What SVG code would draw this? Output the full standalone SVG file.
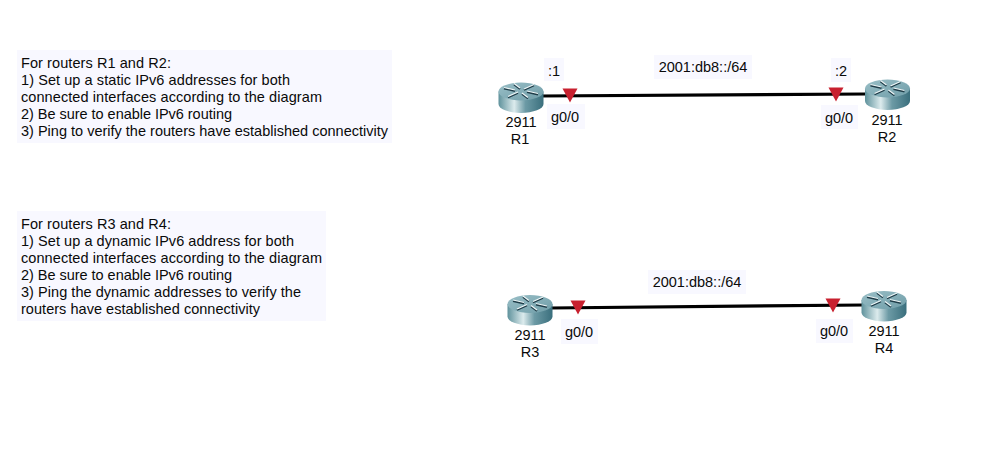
<svg xmlns="http://www.w3.org/2000/svg" width="994" height="473" viewBox="0 0 994 473">
<style>
text{font-family:"Liberation Sans",Arial,sans-serif;font-size:14.5px;fill:#0a0a0a}
.c{text-anchor:middle}
.bg{fill:#f8f8ff}
.link{stroke:#000;stroke-width:3.2;fill:none}
.tri{fill:#c8202f}
</style>
<defs>
<linearGradient id="body" x1="0" x2="1" y1="0" y2="0">
<stop offset="0" stop-color="#5f929c"/><stop offset=".35" stop-color="#dcebed"/><stop offset=".6" stop-color="#6c9aa5"/><stop offset="1" stop-color="#3a6f7d"/>
</linearGradient>
<linearGradient id="top" x1="0" x2="1" y1="0" y2="1">
<stop offset="0" stop-color="#9abfc7"/><stop offset="1" stop-color="#6f9da8"/>
</linearGradient>
<g id="router">
<path d="M-22.500-6V6.500A22.500 9 0 0 0 22.500 6.500V-6Z" fill="url(#body)"/>
<ellipse cx="0" cy="-6" rx="22.500" ry="9" fill="url(#top)"/>
<path d="M-17-9 L-6-6.500M17-3 L6-5.500M-7-13 L-1-8.500M7 1 L1-3.500M-13 0 L-3-4.500M13-12 L3-7.500" stroke="#1f3d49" stroke-width="1.800" fill="none"/>
<path d="M-17-10 L-6-7.500M17-4 L6-6.500M-7-14 L-1-9.500M7 0 L1-4.500M-13-1 L-3-5.500M13-13 L3-8.500" stroke="#eef6f7" stroke-width="1.200" fill="none"/>
</g>
</defs>
<rect width="994" height="473" fill="#fff"/>
<g id="note1">
<rect class="bg" x="17" y="50" width="375" height="93"/>
<text x="21" y="68" textLength="150">For routers R1 and R2:</text>
<text x="21" y="85" textLength="269">1) Set up a static IPv6 addresses for both</text>
<text x="21" y="102" textLength="301">connected interfaces according to the diagram</text>
<text x="21" y="119" textLength="211">2) Be sure to enable IPv6 routing</text>
<text x="21" y="136" textLength="367">3) Ping to verify the routers have established connectivity</text>
</g>
<g id="note2">
<rect class="bg" x="17" y="211" width="309" height="110"/>
<text x="21" y="229" textLength="150">For routers R3 and R4:</text>
<text x="21" y="246" textLength="273">1) Set up a dynamic IPv6 address for both</text>
<text x="21" y="263" textLength="301">connected interfaces according to the diagram</text>
<text x="21" y="280" textLength="211">2) Be sure to enable IPv6 routing</text>
<text x="21" y="297" textLength="280">3) Ping the dynamic addresses to verify the</text>
<text x="21" y="314" textLength="239">routers have established connectivity</text>
</g>
<g id="connectors">
<path class="link" d="M540 96L866 94"/>
<path class="link" d="M550 308L864 305"/>
</g>
<g id="R1">
<use href="#router" x="521" y="97.500"/>
<text class="c" x="521" y="127">2911</text><text class="c" x="520" y="144">R1</text>
</g>
<g id="R2">
<use href="#router" x="887.500" y="94.500"/>
<text class="c" x="887" y="125">2911</text><text class="c" x="887" y="142">R2</text>
</g>
<g id="R3">
<use href="#router" x="530" y="310"/>
<text class="c" x="530" y="340">2911</text><text class="c" x="530" y="357">R3</text>
</g>
<g id="R4">
<use href="#router" x="884" y="306"/>
<text class="c" x="884" y="336">2911</text><text class="c" x="884" y="353">R4</text>
</g>
<g id="labels">
<rect class="bg" x="544" y="58" width="20" height="23"/><text class="c" x="554" y="75.500">:1</text>
<rect class="bg" x="831" y="58" width="20" height="24"/><text class="c" x="841" y="76">:2</text>
<rect class="bg" x="547" y="104" width="38" height="25"/><text class="c" x="565" y="122">g0/0</text>
<rect class="bg" x="821" y="105" width="37" height="24"/><text class="c" x="839" y="123">g0/0</text>
<rect class="bg" x="561" y="319" width="37" height="25"/><text class="c" x="579" y="336.500">g0/0</text>
<rect class="bg" x="816" y="319" width="37" height="24"/><text class="c" x="834" y="336">g0/0</text>
<rect class="bg" x="654" y="55" width="98" height="24"/><text class="c" x="703" y="72">2001:db8::/64</text>
<rect class="bg" x="648" y="270" width="98" height="24"/><text class="c" x="697" y="287">2001:db8::/64</text>
</g>
<g id="markers">
<path class="tri" d="M562.500 88.500h15l-7.500 14z"/>
<path class="tri" d="M828.500 87.500h15l-7.500 14z"/>
<path class="tri" d="M570.500 300.500h15l-7.500 14z"/>
<path class="tri" d="M825.500 298.500h15l-7.500 14z"/>
</g>
</svg>
